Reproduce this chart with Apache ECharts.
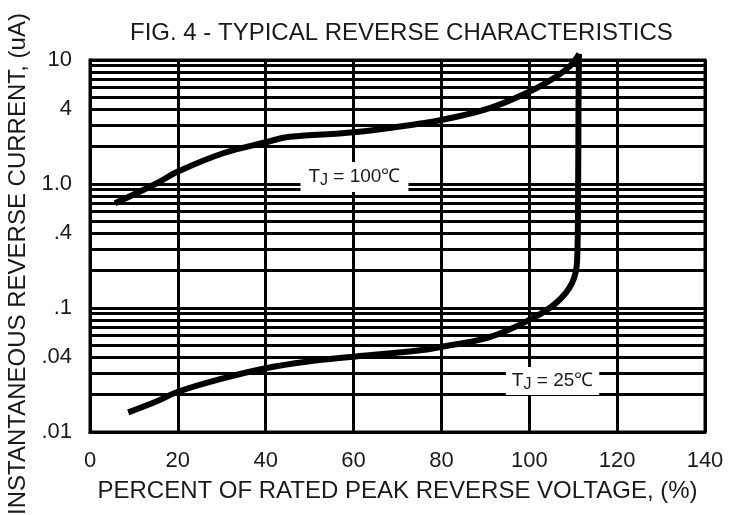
<!DOCTYPE html>
<html>
<head>
<meta charset="utf-8">
<script src="https://cdn.jsdelivr.net/npm/echarts@6/dist/echarts.min.js"></script>
<style>
html,body{margin:0;padding:0;background:#fff;}
#c{width:738px;height:515px;}
</style>
</head>
<body>
<div id="c"></div>
<script>
// ---- data ----
const titleText = 'FIG. 4 - TYPICAL REVERSE CHARACTERISTICS';
const xName = 'PERCENT OF RATED PEAK REVERSE VOLTAGE, (%)';
const yName = 'INSTANTANEOUS REVERSE CURRENT, (uA)';
const xTicks = [0, 20, 40, 60, 80, 100, 120, 140];
const yTickValues = [0.01, 0.04, 0.1, 0.4, 1, 4, 10];
const yTickLabels = ['.01', '.04', '.1', '.4', '1.0', '4', '10'];
const decades = [0.01, 0.1, 1];
const minorMultipliers = [2, 3, 4, 5, 6, 7, 8, 9];

const x100 = [5.7, 15.1, 20.0, 30.3, 40.0, 45.4, 60.0, 75.7, 80.0, 90.8, 100.0, 106.0, 109.5, 111.4];
const y100 = [0.70, 1.01, 1.26, 1.77, 2.17, 2.40, 2.61, 3.09, 3.28, 4.07, 5.55, 7.3, 9.1, 11.2];

const x25 = [8.7, 15.1, 20.0, 30.3, 40.0, 49.2, 60.0, 75.7, 80.0, 90.8, 100.0, 106.0, 109.7, 110.9, 111.1, 111.2, 111.3];
const y25 = [0.0144, 0.0176, 0.0211, 0.0271, 0.0327, 0.0369, 0.0405, 0.0458, 0.0487, 0.058, 0.080, 0.109, 0.158, 0.244, 0.74, 4, 11.2];

const label100 = {x: 60.2, y: 1.14, temp: '100℃'};
const label25 = {x: 105.3, y: 0.0258, temp: '25℃'};

// ---- build ----
const minorLines = [];
decades.forEach(d => minorMultipliers.forEach(m => minorLines.push(+(d * m).toPrecision(3))));

const toPairs = (xs, ys) => xs.map((x, i) => [x, ys[i]]);
const fontFamily = '"Liberation Sans", Arial, sans-serif';
const ink = '#1a1a1a';

function tjLabel(lbl, pad) {
  return {
    name: lbl.temp,
    coord: [lbl.x, lbl.y],
    symbolSize: 0,
    label: {
      show: true,
      position: 'inside',
      formatter: '{t|T}{s|J}{t| = ' + lbl.temp + '}',
      backgroundColor: '#fff',
      padding: pad,
      rich: {
        t: {fontSize: 19, color: ink, fontFamily: fontFamily},
        s: {fontSize: 16, color: ink, fontFamily: fontFamily, padding: [8, 0, 0, 0]}
      }
    }
  };
}

const chart = echarts.init(document.getElementById('c'));
chart.setOption({
  animation: false,
  backgroundColor: '#fff',
  textStyle: {fontFamily: fontFamily},
  title: {
    text: titleText,
    left: 130,
    top: 21,
    padding: 0,
    textStyle: {fontSize: 24, fontWeight: 'normal', color: ink, fontFamily: fontFamily}
  },
  grid: {
    left: 90, right: 33, top: 60, bottom: 83,
    show: true, borderColor: '#000', borderWidth: 3, backgroundColor: 'transparent',
    outerBoundsMode: 'none'
  },
  xAxis: {
    type: 'value', min: 0, max: 140, interval: 20,
    name: xName, nameLocation: 'middle', nameGap: 47,
    nameTextStyle: {fontSize: 24, color: ink, fontFamily: fontFamily},
    axisLine: {show: true, lineStyle: {color: '#000', width: 3}},
    axisTick: {show: false},
    axisLabel: {fontSize: 22, color: ink, margin: 18, fontFamily: fontFamily,
      customValues: xTicks},
    splitLine: {show: true, lineStyle: {color: '#000', width: 3}}
  },
  yAxis: {
    type: 'log', logBase: 10, min: 0.01, max: 10,
    name: yName, nameLocation: 'middle', nameGap: 60, nameRotate: 90,
    nameTextStyle: {fontSize: 24, color: ink, fontFamily: fontFamily, padding: [0, 36, 0, 0]},
    axisLine: {show: true, lineStyle: {color: '#000', width: 3}},
    axisTick: {show: false},
    axisLabel: {
      fontSize: 22, color: ink, margin: 18, fontFamily: fontFamily,
      customValues: yTickValues,
      formatter: function (v) {
        const i = yTickValues.findIndex(t => Math.abs(t - v) / t < 1e-6);
        return i >= 0 ? yTickLabels[i] : '';
      }
    },
    splitLine: {show: true, lineStyle: {color: '#000', width: 3}}
  },
  series: [
    {
      type: 'line', name: 'grid', data: [], z: 1, silent: true,
      markLine: {
        silent: true, symbol: 'none', animation: false,
        label: {show: false},
        lineStyle: {color: '#000', width: 3, type: 'solid'},
        data: minorLines.map(v => ({yAxis: v}))
      }
    },
    {
      type: 'line', name: 'TJ = 100℃', data: toPairs(x100, y100),
      smooth: 0.4, showSymbol: false, clip: false, z: 5,
      lineStyle: {color: '#000', width: 6},
      markPoint: {silent: true, data: [tjLabel(label100, [3, 8, 3, 8])]}
    },
    {
      type: 'line', name: 'TJ = 25℃', data: toPairs(x25, y25),
      smooth: 0.4, showSymbol: false, clip: false, z: 5,
      lineStyle: {color: '#000', width: 6},
      markPoint: {silent: true, data: [tjLabel(label25, [2, 6, 2, 6])]}
    }
  ]
});
</script>
</body>
</html>
